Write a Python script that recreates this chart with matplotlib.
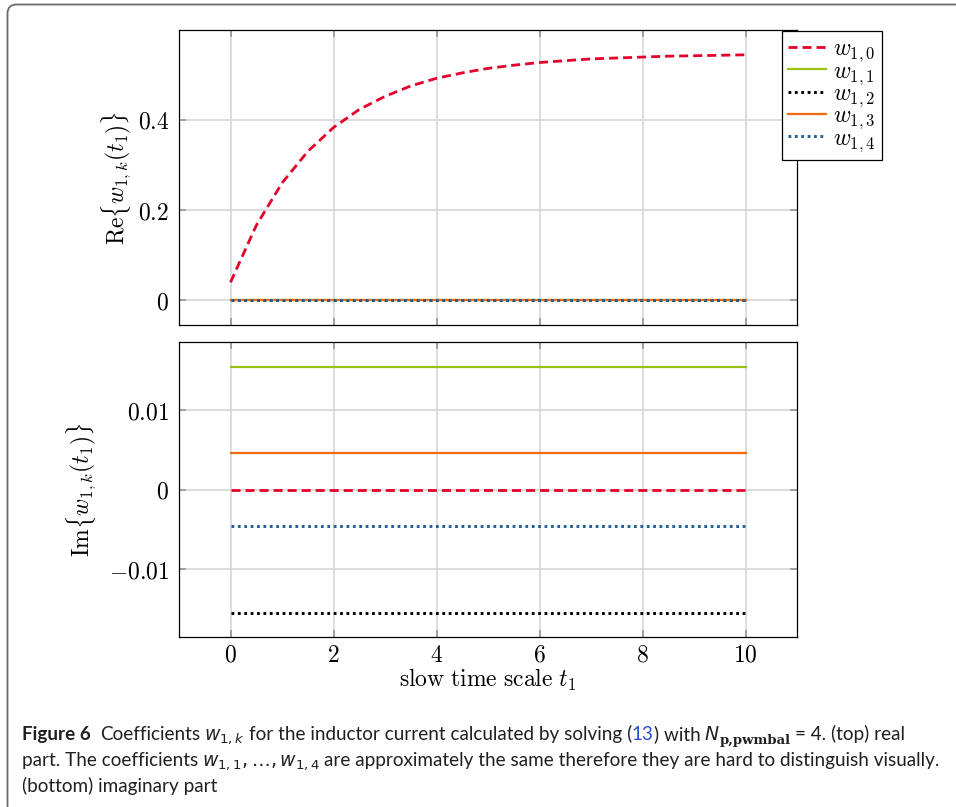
import matplotlib

matplotlib.use("Agg")
import matplotlib.pyplot as plt
from matplotlib.patches import FancyBboxPatch
from matplotlib.ticker import FuncFormatter

plt.rcParams["mathtext.fontset"] = "cm"
plt.rcParams["font.family"] = ["DejaVu Serif"]
plt.rcParams["lines.scale_dashes"] = False

# 数据：实部 w_{1,0} 随 t1 的变化
t1 = [0, 0.5, 1, 1.5, 2, 2.5, 3, 3.5, 4, 4.5, 5, 5.5, 6, 6.5, 7, 7.5, 8, 8.5, 9, 9.5, 10]
re_w10 = [0.040, 0.166, 0.260, 0.330, 0.383, 0.423, 0.452, 0.475, 0.492, 0.504, 0.514,
          0.521, 0.527, 0.531, 0.535, 0.537, 0.539, 0.541, 0.542, 0.543, 0.544]
# 其余系数为常数
t_ends = [0, 10]
re_w11 = [0.0, 0.0]
re_w12 = [0.0, 0.0]
re_w13 = [0.0, 0.0]
re_w14 = [0.0, 0.0]
im_w10 = [0.0, 0.0]
im_w11 = [0.0155, 0.0155]
im_w12 = [-0.0155, -0.0155]
im_w13 = [0.0046, 0.0046]
im_w14 = [-0.0046, -0.0046]
labels = [r"$w_{1,0}$", r"$w_{1,1}$", r"$w_{1,2}$", r"$w_{1,3}$", r"$w_{1,4}$"]

RED = "#e4002b"
GREEN = "#99c214"
ORANGE = "#f26c0f"
BLUE = "#1f5e96"
BLACK = "#000000"

DASH = dict(linestyle=(0, (6.5, 3.6)))
DOT = dict(linestyle=(0, (2.0, 2.6)))
styles = [
    dict(color=RED, lw=2.0, **DASH),
    dict(color=GREEN, lw=1.6),
    dict(color=BLACK, lw=2.1, **DOT),
    dict(color=ORANGE, lw=1.6),
    dict(color=BLUE, lw=2.1, **DOT),
]

FS = 17
fig = plt.figure(figsize=(9.56, 8.07), dpi=100)
W, H = 956, 807

ax1 = fig.add_axes([179 / W, 1 - 325 / H, 618 / W, 295 / H])
ax2 = fig.add_axes([179 / W, 1 - 637 / H, 618 / W, 295 / H])


def math_fmt(v, pos):
    if abs(v) < 1e-12:
        return "$0$"
    return f"${v:g}$"


for ax in (ax1, ax2):
    ax.set_xlim(-1, 11)
    ax.set_xticks([0, 2, 4, 6, 8, 10])
    ax.grid(True, color="#d3d3d3", lw=1.1)
    ax.set_axisbelow(True)
    ax.tick_params(direction="in", top=True, right=True, length=5, width=1.1,
                   color="#8f8f8f", labelsize=FS, pad=7)
    ax.tick_params(axis="x", pad=5)
    ax.yaxis.set_major_formatter(FuncFormatter(math_fmt))
    ax.xaxis.set_major_formatter(FuncFormatter(math_fmt))
    for s in ax.spines.values():
        s.set_linewidth(0.9)

re_series = [re_w10, re_w11, re_w12, re_w13, re_w14]
im_series = [im_w10, im_w11, im_w12, im_w13, im_w14]
handles = []
for i, (vals, st) in enumerate(zip(re_series, styles)):
    x = t1 if i == 0 else t_ends
    h, = ax1.plot(x, vals, label=labels[i], dash_capstyle="butt", **st)
    handles.append(h)
for vals, st in zip(im_series, styles):
    ax2.plot(t_ends, vals, dash_capstyle="butt", **st)

ax1.set_ylim(-0.0545, 0.599)
ax1.set_yticks([0, 0.2, 0.4])
ax1.tick_params(labelbottom=False)
ax2.set_ylim(-0.0185, 0.0186)
ax2.set_yticks([-0.01, 0, 0.01])

ax1.set_ylabel(r"$\mathrm{Re}\{w_{1,k}(t_1)\}$", fontsize=FS, labelpad=3)
ax2.set_ylabel(r"$\mathrm{Im}\{w_{1,k}(t_1)\}$", fontsize=FS, labelpad=7)
ax2.set_xlabel(r"$\mathrm{slow\ time\ scale}\ t_1$", fontsize=FS, labelpad=0)

leg = fig.legend(handles=handles, loc="upper left",
                 bbox_to_anchor=(782 / W, 1 - 31 / H), fontsize=FS,
                 frameon=True, fancybox=False, edgecolor="black", framealpha=1,
                 handlelength=1.6, handletextpad=0.3, labelspacing=-0.2,
                 borderpad=0.26, borderaxespad=0)
leg.get_frame().set_linewidth(0.9)

# 外框（左上圆角）
frame = FancyBboxPatch((0.075, -0.08), 10.0, 8.105,
                       boxstyle="round,pad=0,rounding_size=0.09",
                       transform=fig.dpi_scale_trans, fill=False,
                       edgecolor="#6a6a6a", lw=1.3, clip_on=False)
fig.patches.append(frame)

# 图注
renderer = fig.canvas.get_renderer()
CAP = ["Lato", "Roboto", "DejaVu Sans"]
CFS = 13.6
TXT = "#231f20"


def draw_line(x_px, y_px, chunks):
    x = x_px
    for s, kw in chunks:
        gap = kw.pop("gap", 0)
        dy = kw.pop("dy", 0)
        x += gap
        props = dict(fontsize=CFS, color=TXT, family=CAP, math_fontfamily="dejavusans")
        props.update(kw)
        t = fig.text(x / W, 1 - (y_px + dy) / H, s, va="baseline", ha="left", **props)
        x += t.get_window_extent(renderer).width


SP = 4
draw_line(22, 740, [
    ("Figure 6", dict(weight="bold")),
    ("Coefficients", dict(gap=9)),
    (r"$w_{1,k}$", dict(gap=SP)),
    ("for the inductor current calculated by solving (", dict(gap=SP)),
    ("13", dict(color="#2b4fd0")),
    (") with", {}),
    (r"$N$", dict(gap=SP)),
    ("p,pwmbal", dict(family=["DejaVu Serif"], weight="bold", fontsize=9.5, dy=4)),
    ("= 4. (top) real", dict(gap=SP)),
])
draw_line(22, 766, [
    ("part. The coefficients", {}),
    (r"$w_{1,1},\ldots,w_{1,4}$", dict(gap=SP)),
    ("are approximately the same therefore they are hard to distinguish visually.", dict(gap=SP)),
])
draw_line(22, 792, [
    ("(bottom) imaginary part", {}),
])

fig.savefig("out.png", dpi=100, facecolor="white")
